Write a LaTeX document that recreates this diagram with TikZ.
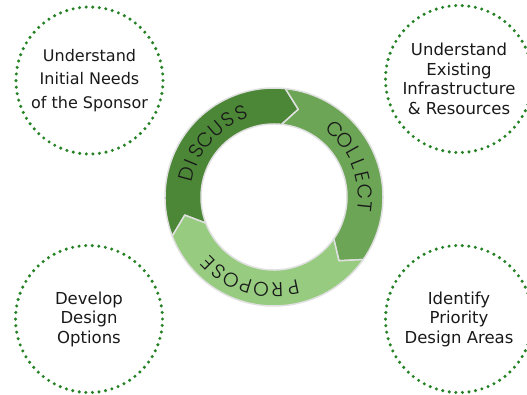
\documentclass[tikz,border=0pt]{standalone}
\usepackage{fontspec}
\newfontfamily\circfont{DejaVu Sans}
\newfontfamily\ringfont{Poppins Light}
\definecolor{dotgreen}{RGB}{36,130,36}
\definecolor{gdark}{RGB}{75,135,55}
\definecolor{gmid}{RGB}{108,165,85}
\definecolor{glight}{RGB}{150,203,128}
\definecolor{txt}{RGB}{25,25,25}
\newcommand\ringseg[3]{%
  \path[seg, fill=#1] (#2:109pt) arc[start angle=#2, end angle=#3, radius=109pt]
    -- (#3-9.5:91pt) -- (#3:73pt) arc[start angle=#3, end angle=#2, radius=73pt]
    -- (#2-9.5:91pt) -- cycle;}
\begin{document}
\begin{tikzpicture}[x=1pt,y=1pt,
  dotcirc/.style={circle, draw=dotgreen, line width=3.4pt, line cap=round,
    dash pattern=on 0pt off 6.6pt, minimum size=147pt, inner sep=0pt},
  circtext/.style={align=center, text=txt, font=\circfont\fontsize{16.5}{19.5}\selectfont},
  seg/.style={draw=white!88!black, line width=1.5pt, line join=round},
  ringletter/.style={text=txt, font=\ringfont\fontsize{20}{20}\selectfont, inner sep=0pt}]
\useasboundingbox (0,0) rectangle (527,394);
% dotted circles
\node[dotcirc, circtext, font=\circfont\fontsize{16}{23.5}\selectfont] (tl) at (89.5,313.5) {Understand\\Initial Needs\\of the Sponsor};
\node[dotcirc, circtext] (tr) at (459,315) {Understand\\Existing\\Infrastructure\\\& Resources};
\node[dotcirc, circtext] (bl) at (89,75) {Develop\\Design\\Options};
\node[dotcirc, circtext] (br) at (459,75) {Identify\\Priority\\Design Areas};
% ring
\begin{scope}[shift={(274,197)}]
  \ringseg{gdark}{201}{84}
  \ringseg{gmid}{84}{-35}
  \ringseg{glight}{325}{201}
  \foreach \ch/\ang [count=\i] in {D/165,I/157.5,S/149.5,C/140.5,U/130.5,S/121,S/111.5} {
    \node[ringletter, rotate=\ang-90] (dis\i) at (\ang:90pt) {\ch};
  }
  \foreach \ch/\ang [count=\i] in {C/48,O/38.5,L/29.5,L/21.5,E/13,C/3.5,T/-6} {
    \node[ringletter, rotate=\ang-90] (col\i) at (\ang:91pt) {\ch};
  }
  \foreach \ch/\ang [count=\i] in {P/-78,R/-88,O/-98,P/-107.5,O/-117,S/-126.5,E/-135} {
    \node[ringletter, rotate=\ang-90] (pro\i) at (\ang:93pt) {\ch};
  }
\end{scope}
\end{tikzpicture}
\end{document}
